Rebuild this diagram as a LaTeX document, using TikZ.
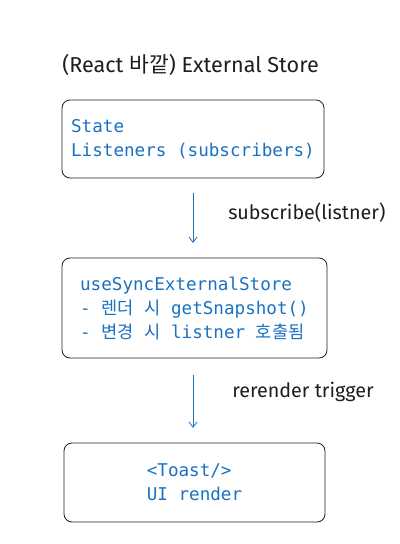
\documentclass[tikz,border=0pt]{standalone}
\usepackage{fontspec}
\setmainfont{Fira Sans}
\setmonofont{DejaVu Sans Mono}
\newfontfamily\kr{Noto Sans CJK KR}
\usetikzlibrary{positioning,arrows.meta}
\definecolor{codeblue}{HTML}{1971C2}
\definecolor{inkblack}{HTML}{1E1E1E}
\tikzset{
  storebox/.style={draw=inkblack, line width=0.6pt, rounded corners=6pt, inner sep=0pt,
    align=left, text=codeblue, font=\ttfamily\fontsize{13.2}{18}\selectfont},
  note/.style={anchor=west, inner sep=0pt, text=inkblack, font=\fontsize{14.8}{18}\selectfont},
  flow/.style={draw=codeblue, line width=0.6pt, -{Straight Barb[length=4pt,width=6pt]}}
}
\begin{document}
\begin{tikzpicture}[x=0.75pt, y=-0.75pt]
  \useasboundingbox (0,0) rectangle (400,544);
  % title
  \node[note, font=\fontsize{16.2}{18}\selectfont] (title) at (62,65) {(React {\kr 바깥}) External Store};
  % boxes
  \node[storebox, minimum width=196.5pt, minimum height=58.5pt] (store) at (193,139)
    {State\\Listeners (subscribers)};
  \node[storebox, minimum width=198.75pt, minimum height=75pt] (hook) at (194.5,308)
    {useSyncExternalStore\\- {\kr 렌더} {\kr 시} getSnapshot()\\- {\kr 변경} {\kr 시} listner {\kr 호출됨}};
  \node[storebox, minimum width=195.75pt, minimum height=59.25pt] (toast) at (194.5,482.5)
    {<Toast/>\\UI render};
  % connectors
  \draw[flow, shorten <=11pt, shorten >=11pt] (store.south) -- (store.south |- hook.north);
  \draw[flow, shorten <=12.5pt, shorten >=11pt] (hook.south -| store.south) -- (store.south |- toast.north);
  % labels
  \node[note] (sublabel) at (228,213) {subscribe(listner)};
  \node[note] (rerender) at (232,392) {rerender trigger};
\end{tikzpicture}
\end{document}
